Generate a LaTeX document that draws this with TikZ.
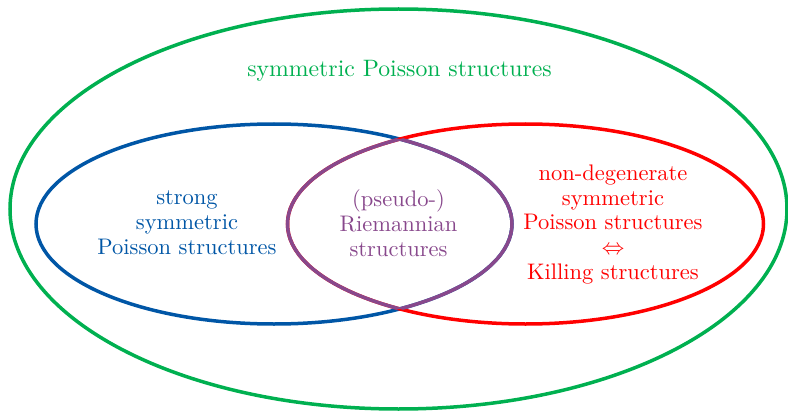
\documentclass[tikz,border=0pt]{standalone}
\usepackage{amssymb}
\definecolor{cgreen}{RGB}{0,176,80}
\definecolor{cblue}{RGB}{0,86,166}
\definecolor{cred}{RGB}{255,0,0}
\definecolor{cpurple}{RGB}{136,72,140}
\begin{document}
\begin{tikzpicture}[x=1pt,y=-1pt,
  ring/.style={line width=3.5pt},
  lbl/.style={align=center,font=\fontsize{10}{11.1}\selectfont,inner sep=0pt,scale=2.25,transform shape}]
\useasboundingbox (0,0) rectangle (788,412);
\draw[ring,cgreen] (398.5,209) ellipse [x radius=388.5,y radius=200];
\draw[ring,cblue] (274,224) ellipse [x radius=238,y radius=100];
\draw[ring,cred] (525.5,224) ellipse [x radius=238,y radius=100];
\begin{scope}
  \clip (274,224) ellipse [x radius=238,y radius=100];
  \draw[ring,cpurple] (525.5,224) ellipse [x radius=238,y radius=100];
\end{scope}
\begin{scope}
  \clip (525.5,224) ellipse [x radius=238,y radius=100];
  \draw[ring,cpurple] (274,224) ellipse [x radius=238,y radius=100];
\end{scope}
\node[lbl,text=cgreen,scale=1.055] (tg) at (399.5,71) {symmetric Poisson structures};
\node[lbl,text=cblue] (tb) at (187,223) {strong\\symmetric\\Poisson structures};
\node[lbl,text=cpurple] (tp) at (398.5,223) {(pseudo-)\\Riemannian\\structures};
\node[lbl,text=cred] (tr) at (613,224.5) {non-degenerate\\symmetric\\Poisson structures\\$\Leftrightarrow$\\Killing structures};
\end{tikzpicture}
\end{document}
